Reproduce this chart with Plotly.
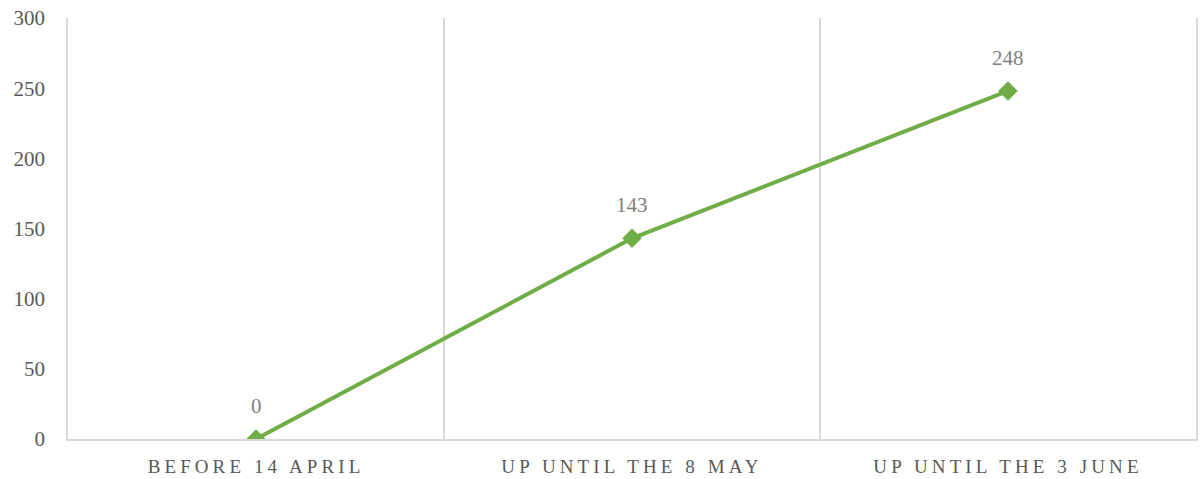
import plotly.graph_objects as go

categories = ["BEFORE 14 APRIL", "UP UNTIL THE 8 MAY", "UP UNTIL THE 3 JUNE"]
values = [0, 143, 248]
y_ticks = [0, 50, 100, 150, 200, 250, 300]

GREEN = "#70AD47"
GRID = "#d9d9d9"
TXT = "#595959"
FONT = "Liberation Serif"

def spaced(s):
    return '<span style="letter-spacing:4.1px">' + s + '</span>'

fig = go.Figure()
fig.add_trace(go.Scatter(
    x=categories, y=values, mode="lines+markers",
    line=dict(color=GREEN, width=4),
    marker=dict(symbol="diamond", size=15, color=GREEN),
    hoverinfo="skip", showlegend=False,
))
for c, v in zip(categories, values):
    fig.add_annotation(x=c, y=v, text=str(v), showarrow=False, yshift=33,
                       font=dict(family=FONT, size=21, color="#7f7f7f"))

fig.update_layout(
    width=1202, height=479,
    margin=dict(l=68, r=6, t=18, b=40, autoexpand=False),
    plot_bgcolor="white", paper_bgcolor="white",
    font=dict(family=FONT, color=TXT),
)
fig.update_xaxes(
    type="category", tickson="boundaries", showgrid=True, gridcolor=GRID, gridwidth=1.5,
    range=[-0.5, 2.5], automargin=False,
    tickvals=categories, ticktext=[spaced(c) for c in categories],
    ticks="", tickfont=dict(family=FONT, size=19, color=TXT),
    ticklabelstandoff=9,
    showline=True, linecolor=GRID, linewidth=1.5, zeroline=False,
)
fig.update_yaxes(
    range=[0, 300], tickvals=y_ticks, showgrid=False, zeroline=False, automargin=False,
    showline=True, mirror=True, linecolor=GRID, linewidth=1.5,
    ticks="", tickfont=dict(family=FONT, size=21, color=TXT),
    ticklabelstandoff=17,
)
fig.write_html("out.html", config={"displayModeBar": False},
               post_script="document.body.style.margin='0';document.body.style.overflow='hidden';")
